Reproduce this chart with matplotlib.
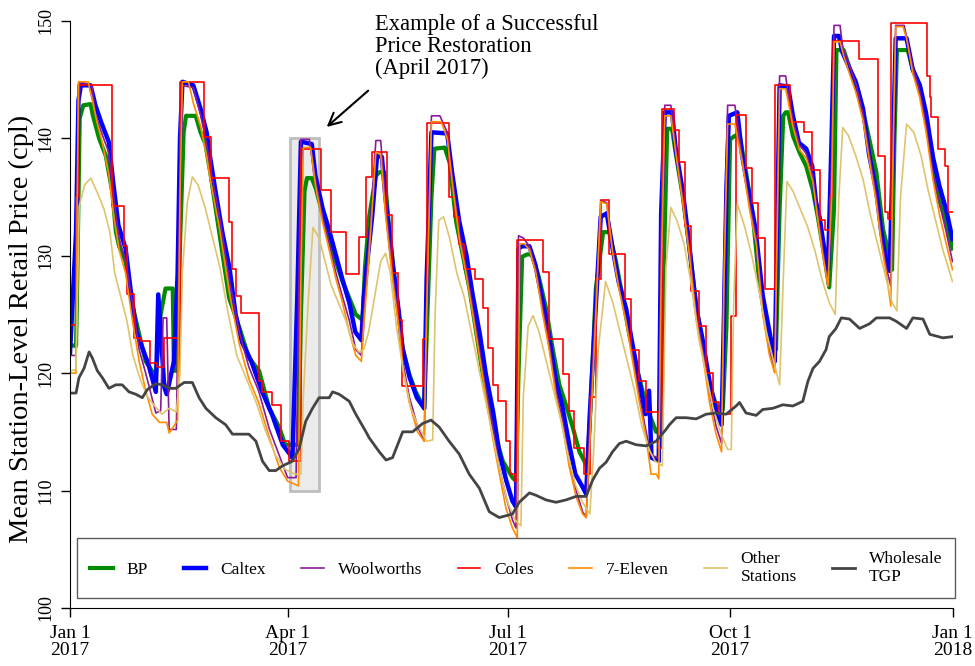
import matplotlib
matplotlib.use("Agg")
import matplotlib.pyplot as plt
from matplotlib.patches import Rectangle

plt.rcParams['font.family'] = ['Liberation Serif', 'DejaVu Serif']

# days since Jan 1 2017, mean retail price (cpl)
bp_days = [0, 2.5, 3, 4, 5.5, 8.5, 9.5, 12, 14.8, 17.5, 19, 20.3, 23, 25.8, 28.6, 31.3, 35.5, 37.5,
           39.5, 42.5, 43, 44.5, 45.5, 47, 48, 52, 54, 56, 58, 61.7, 65.8, 70, 74, 78.2, 82.4, 86.5,
           89, 94.5, 95.5, 97, 98, 100, 101.7, 104.4, 107.2, 110, 112.7, 115.5, 118.2, 121, 122,
           123.8, 126.5, 128, 130, 132, 134.7, 137.6, 140.3, 143, 146.5, 148, 149.5, 150.7, 155,
           157, 159.7, 162.4, 165.2, 168, 170.7, 173.5, 176.2, 179, 183, 184.5, 185.5, 187, 189,
           191, 194, 196.9, 199.6, 202.4, 205.1, 207.9, 210.7, 214, 215.5, 217.5, 220.5, 223,
           225.8, 228.6, 231.3, 234.1, 236.9, 239.6, 242.4, 244.5, 245.5, 247, 249, 250.7, 253.4,
           256.2, 259, 261.7, 264.5, 267.2, 270, 271.5, 273, 275, 277, 279.6, 282.4, 285.1, 287.9,
           290.7, 292, 293.5, 295, 296, 297, 299, 301.7, 304.5, 307.2, 309.3, 312, 314, 316, 317,
           320, 322.4, 325.2, 328, 330.7, 333.5, 336.3, 339, 340, 341, 342, 346.5, 348.6, 351.4,
           354.1, 356.9, 359.6, 362.4, 365]
bp_vals = [122.4, 122.3, 128, 141.7, 142.8, 142.9, 141.9, 140, 138.5, 135.4, 132, 130.8, 129.5, 125.8,
           123.3, 121, 119.7, 125, 127.2, 127.2, 120.2, 120.2, 131, 140.5, 141.9, 141.9, 140.5, 139.5,
           137.1, 132, 126.4, 123.9, 121.3, 120.2, 117, 115.4, 113.9, 113.9, 125, 135.5, 136.6, 136.6,
           135.7, 133.6, 131.6, 129.5, 127.8, 126.4, 125, 124.5, 129, 133.4, 136.8, 137.1, 137.1,
           132.3, 127.2, 122.1, 119.9, 118.4, 117, 126, 135, 139.1, 139.2, 137.9, 132.9, 130.1, 127.2,
           123.5, 119.9, 117, 114.5, 112.5, 111.1, 110.8, 120, 129.9, 130.1, 130.1, 128.1, 125.5,
           122.1, 119, 117.3, 115.4, 113.3, 112, 118, 127.2, 132, 132, 129.5, 126.4, 123.3, 120.7,
           118.4, 116.5, 115, 115, 128.3, 140.8, 140.8, 138.5, 135.1, 130.6, 125.8, 122.4, 119, 117.3,
           116.9, 124, 139.9, 140.2, 140.2, 137.1, 133.4, 127.7, 124.1, 122.1, 122, 134, 141.9, 142.2,
           142.2, 140.2, 138.8, 137.6, 135.6, 133.3, 129.9, 127.3, 134, 147.5, 147.5, 146, 144.3,
           142.3, 139.8, 137.1, 132.2, 129.9, 128.8, 140, 147.5, 147.5, 145.8, 144.4, 141.8, 137.6,
           134.7, 132.8, 130.6]

caltex_days = [0, 2.5, 3.5, 4.5, 8.5, 10.5, 13, 16, 18, 20, 23, 25, 27.5, 30, 32.5, 35.5, 36.5, 39,
               40, 43, 44.5, 45.5, 46.5, 51, 54, 56.5, 58, 60, 63, 66, 68.5, 71, 75, 79.5, 83.5, 88,
               92, 94, 95.5, 100, 101.5, 104.5, 107, 110, 112.5, 115.5, 118, 120.5, 121.5, 122.5, 125,
               127, 129, 130.5, 133.5, 136, 137.5, 140.5, 143.5, 146.5, 147.5, 149.5, 156, 158, 161,
               164, 166.5, 169.5, 172, 175, 177.5, 180.5, 183, 184.5, 185.5, 187, 190, 192.5, 195.5,
               198, 201, 203.5, 206.5, 209, 212, 213.5, 215, 217, 219.5, 222, 224.5, 227, 230, 232.5,
               235.5, 238, 239.5, 240.5, 243.5, 244.5, 246, 249, 250.5, 253.5, 256, 259, 261.5,
               264.5, 267, 269.5, 270.5, 271.5, 272.5, 276, 278, 281, 283.5, 286.5, 289.5, 291.5,
               292.5, 293.5, 297, 299, 301.5, 304.5, 307, 308.5, 310, 312, 313.5, 315, 316, 318,
               319.5, 322.5, 325, 328, 330.5, 333.5, 335.5, 337.5, 339, 340.5, 341.5, 346, 348.5,
               351.5, 354, 357, 359.5, 362.5, 365]
caltex_vals = [121.7, 132, 143.2, 144.5, 144.5, 142.8, 141.3, 139.7, 136, 132.6, 130.6, 127.2, 123.5,
               122.1, 120.7, 118.4, 126.7, 118.8, 118.2, 121, 128.4, 140, 144.8, 144.5, 142.5, 140.5,
               138.3, 135.7, 132, 128.9, 125, 122.7, 121, 118.4, 116.5, 113.9, 112.8, 126.4, 139.7,
               139.5, 136.8, 134, 132.3, 130, 128.1, 126, 123.5, 122.8, 126.4, 128.6, 133.4, 138.5,
               138.4, 134.9, 129.2, 125.2, 122.1, 119.6, 117.9, 117, 128, 140.5, 140.4, 137.1, 132.9,
               130, 126.7, 123.3, 119.9, 116.7, 113.3, 110.8, 109.1, 108.6, 130.6, 130.8, 130.8, 129.2,
               126.1, 123.3, 119.3, 117.3, 113.9, 111.4, 110.3, 109.7, 116.5, 124, 133.3, 133.6, 130.5,
               127.7, 125.5, 122.6, 119.3, 116.5, 118.5, 112.8, 112.5, 133.6, 142.2, 142.2, 139.1,
               135.4, 131.1, 125.5, 123, 119.3, 117, 115.6, 125, 135.7, 141.9, 142.2, 138.5, 135.1,
               132.3, 126.6, 123.3, 121, 133, 144.5, 144.4, 141.9, 139.6, 139.1, 137.6, 134.6, 133.3,
               130.5, 128.8, 140, 148.7, 148.7, 147.3, 145.9, 144.8, 142.5, 138.6, 135.5, 132.1, 129.6,
               128.7, 140, 148.5, 148.5, 145.9, 144.5, 142.2, 138.3, 136, 133.8, 131.4]

woolworths_days = [0, 2.5, 3, 4, 9, 10.5, 13, 16, 18, 20.3, 23, 25.8, 28.6, 31.3, 35.5, 37.5, 38.5,
                   40, 41, 44, 45, 46, 51, 54, 56.5, 58, 61.7, 65.8, 70, 74, 78, 82.5, 86.5, 90, 93.5,
                   94.5, 95.5, 99, 101.5, 104.5, 107.2, 110, 112.7, 115.5, 118.2, 120.5, 121.5, 123,
                   125, 126.5, 128.5, 130.5, 133.4, 136.2, 137.6, 140.3, 143.7, 146.5, 147.5, 149.5,
                   153, 156, 158.2, 161, 163.8, 166.6, 169.3, 172, 174.8, 177.5, 180.3, 183, 184.5,
                   185.5, 187.5, 190, 192.7, 195.5, 198.2, 201, 203.7, 206.5, 209.3, 212, 213.5, 215,
                   217.5, 219.5, 222, 224.4, 227.2, 230, 232.7, 235.5, 238.3, 240.3, 243.5, 244.5, 246,
                   248.5, 250.7, 253.4, 256.2, 259, 261.7, 264.5, 267.2, 269.5, 270.5, 272, 275, 278,
                   281, 283.8, 286.5, 289.3, 291.5, 292.5, 293.5, 296, 297, 299, 301.7, 304.5, 307.2,
                   309, 311, 313.5, 315, 316, 318.5, 319.5, 322.4, 325.2, 328, 330.7, 333.5, 335.6,
                   337.6, 339.5, 340.5, 341.5, 345, 348.6, 351.4, 354.1, 356.9, 359.6, 362.4, 365]
woolworths_vals = [121.5, 121.5, 135, 144.8, 144.5, 142, 140.5, 138.8, 135, 131.5, 129.5, 126, 122, 120,
                   116.6, 116.8, 124.7, 124.7, 115.2, 115.2, 130, 144.5, 144.3, 142, 139.5, 137.5,
                   133.5, 128, 123.5, 120.5, 118.5, 115.2, 113, 111.1, 111.1, 125, 139.9, 139.9, 136.5,
                   133.2, 131, 128.5, 126.5, 124.5, 122, 121.5, 125, 129, 135, 139.8, 139.8, 134.5,
                   128.5, 124, 121, 118, 115.5, 114.2, 126, 141.9, 141.9, 140.5, 136.5, 132, 129, 125.5,
                   122, 118.5, 115.5, 112, 109.5, 107.5, 106.8, 131.7, 131.5, 130.8, 128.8, 125.5,
                   122.5, 118.5, 116, 112.5, 110, 108.2, 107.7, 116, 126, 134.7, 134.5, 130.5, 127.2,
                   124.5, 121.5, 118, 115, 113, 112.8, 132, 142.8, 142.8, 139, 135, 130.5, 125, 122,
                   118.3, 115.5, 114, 130, 142.8, 142.8, 138.3, 134.5, 131.5, 125.5, 122, 120.1, 135,
                   145.3, 145.3, 143.8, 141.5, 139.4, 138.7, 136.8, 134, 131, 127.4, 138, 149.6, 149.6,
                   147.8, 146.2, 144.5, 142, 138.5, 135, 131.5, 129, 127.4, 138, 149.6, 149.6, 146, 144,
                   141, 137, 134.5, 132, 129.5]

coles_days = [0, 2, 2.5, 3.5, 17.5, 22.3, 23.7, 26.5, 29.3, 33, 36, 39, 44.5, 45.5, 55.5, 58.5, 65.8,
              67.2, 68.6, 70.7, 78.2, 79.6, 83.7, 87.2, 90.6, 95.5, 103.7, 107.9, 114.1, 119.6, 122.4,
              125, 131, 133, 135.5, 137.5, 145.8, 147.8, 156.9, 159, 161, 163, 167.5, 171, 173, 175,
              177, 180.5, 182, 184, 185, 195.5, 198.2, 203.7, 206.5, 208.6, 212.7, 215, 217.5, 219.6,
              223, 229.5, 232, 235.5, 238.3, 243, 245, 250, 252, 254.5, 257, 260, 263, 266, 268.5,
              273.5, 275.5, 279.5, 282, 284.5, 287.5, 291.4, 297.6, 303.5, 307, 310, 312.4, 314.5,
              315.5, 326.4, 334.2, 337, 338.5, 339.5, 354.3, 355.7, 356.2, 359, 361.8, 363, 365]
coles_vals = [124.1, 124.1, 135, 144.5, 134.2, 130.8, 126.7, 123, 122.7, 120.9, 120.5, 123, 123, 144.8,
              140.1, 136.6, 132.9, 128.9, 126.6, 125.1, 119.3, 118.4, 117.3, 114.2, 112.5, 139.1, 135.6,
              132, 128.4, 131.6, 136.7, 138.8, 133.5, 128.5, 124.5, 118.9, 122.9, 141.3, 135, 133.3,
              131, 128.9, 128, 125.5, 122.1, 119, 117.6, 114.2, 111.4, 110.8, 131.3, 128.6, 122.9,
              119.9, 116.8, 113.6, 111.4, 118, 128, 134.7, 130.1, 126.3, 122, 119.3, 116.7, 113.6,
              142.5, 140.7, 138, 132.5, 127, 124, 120, 117.5, 116.5, 124.9, 142, 137.5, 134.5, 131.5,
              127.2, 144.5, 141.4, 140.5, 137.3, 133, 132.2, 135.1, 148.3, 146.7, 138.5, 133.7, 133.1,
              149.8, 145.3, 143.5, 141.8, 139.1, 137.6, 133.7, 133.7]

seven_days = [0, 2.5, 3, 3.5, 7.5, 9, 11, 13.5, 16, 18, 20.3, 23, 25.8, 28.6, 31.3, 34, 37, 40, 41, 43,
              44.5, 45.5, 46.5, 49, 51, 54, 56.5, 58, 61.7, 65.8, 70, 74, 78, 82.5, 86.5, 90, 94.5,
              95.5, 96.5, 99.5, 101.5, 104.5, 107.2, 110, 112.7, 115.5, 118.2, 120.5, 121.5, 123, 125,
              126.5, 128.5, 130.5, 133.4, 136.2, 137.6, 140.3, 143.7, 146.5, 147.5, 149.5, 153.5, 156,
              158.2, 161, 163.8, 166.6, 169.3, 172, 174.8, 177.5, 180.3, 183, 185, 186, 188, 190,
              192.7, 195.5, 198.2, 201, 203.7, 206.5, 209.3, 212, 213.5, 215, 217.5, 219.5, 222,
              224.4, 227.2, 230, 232.7, 235.5, 238.3, 240.3, 242.5, 243.5, 244.5, 246, 248.5, 250.7,
              253.4, 256.2, 259, 261.7, 264.5, 267.2, 269.5, 270.5, 272, 275, 278, 281, 283.8, 286.5,
              289.3, 291.5, 292.5, 293.5, 296, 297, 299, 301.7, 304.5, 307.2, 309, 311, 313.5, 315,
              316, 318.5, 320, 322.4, 325.2, 328, 330.7, 333.5, 335.6, 337.6, 339.5, 340.5, 341.5,
              344.5, 346, 348.6, 351.4, 354.1, 356.9, 359.6, 362.4, 365]
seven_vals = [120, 120, 135, 144.8, 144.8, 143.5, 141.5, 139.5, 137, 133.5, 130.5, 128.5, 124.5, 121,
              118.5, 116.5, 115.8, 115.8, 114.9, 115.5, 116, 135, 144.8, 144.8, 143, 141, 138.5, 136.5,
              132.5, 127, 122.5, 119.5, 117.5, 114.5, 112, 110.8, 110.4, 128, 139.2, 139.2, 136, 132.8,
              130.5, 128, 126, 123.5, 121.5, 121, 124, 128, 134, 138.8, 138.6, 133.5, 128, 123.5,
              120.5, 117.5, 115, 114.2, 125, 141.4, 141.4, 140, 136, 131.5, 128.5, 125, 121.5, 118,
              114.5, 111.5, 108.5, 106.8, 106, 131, 131, 130.5, 128.5, 125, 122, 118, 115.5, 112, 109.5,
              108, 107.7, 114, 125, 134.6, 134.4, 130.3, 127, 124.3, 121, 117.5, 114.5, 111.4, 111.4,
              111, 128, 141.9, 141.9, 138.5, 134.5, 130, 124.5, 121.5, 117.5, 114.8, 113.3, 128, 141.2,
              141.2, 138, 134, 131, 125, 121.5, 120, 132, 144.2, 144.2, 143.2, 141, 139, 138.3, 136.3,
              133.5, 130.5, 127.4, 135, 148.2, 148.2, 147, 145.5, 143.8, 141.5, 138, 134.5, 131, 128.5,
              125.7, 140, 149.5, 149.5, 148.5, 145.5, 143.5, 140.5, 136.5, 133.5, 131, 128.8]

other_days = [0, 2.5, 3.2, 3.8, 6, 8.6, 11, 14, 16.5, 18.5, 21, 23.5, 26, 29, 32, 35, 38, 41, 44,
              45.5, 46.5, 48.5, 50.6, 53, 56, 59, 62, 65.5, 69, 73, 77, 81, 85, 89, 93, 95.5, 96.5,
              98.5, 100.5, 103, 105.5, 108, 111, 114, 117, 119.5, 121.5, 123.5, 126, 128.5, 130.5,
              132.5, 135, 138, 141, 144, 147.5, 150, 151, 152.5, 154.5, 157, 160, 163, 166, 169, 172,
              175, 178, 181, 184, 186.5, 187.5, 189.5, 191.5, 194, 197, 200, 203, 206, 209, 212, 215,
              216.5, 218.5, 221.5, 224.5, 227.5, 230.5, 233.5, 236.5, 239.5, 242, 245, 246.5, 248.5,
              251, 254, 257, 260, 263, 266, 269, 272, 273.5, 274.5, 276, 279, 282, 285, 288, 291,
              293.5, 295, 296.5, 299, 302, 305, 308, 311, 314, 316.5, 318, 319.6, 322, 325, 328, 331,
              334, 337, 340, 342, 343.5, 346, 349, 352, 355, 358, 361, 365]
other_vals = [120.2, 120.3, 128, 134.2, 136, 136.6, 135.5, 134, 132, 128.5, 126.5, 124.5, 121.5, 119.5,
              118, 117.2, 116.5, 117, 116.7, 120, 128.6, 134.5, 136.7, 136, 134, 131.5, 129, 125, 121.5,
              119.5, 117.5, 115, 113, 111.8, 111.4, 111.4, 118, 126, 132.4, 131.5, 129.5, 127.5, 126,
              124.5, 122.5, 121.8, 122, 123.5, 126.5, 129.5, 130.2, 128.5, 124, 120, 117, 115.5, 114.2,
              114.3, 125, 133, 133.3, 131.5, 128.5, 126.5, 123.5, 120.5, 117.5, 114.5, 111.5, 109,
              107.5, 107, 118, 124, 124.9, 123.5, 121, 118.5, 116, 113, 110.5, 109, 108, 113, 122,
              127.8, 126, 123.5, 121, 118.5, 115.5, 113.5, 112.5, 112.1, 129, 134.1, 133, 131, 127.5,
              123, 120, 117, 115, 113.5, 113.5, 126, 134.4, 132.5, 130, 127, 123.5, 121, 119, 128,
              136.3, 135.5, 134, 132.5, 130.5, 128, 126, 125, 135, 140.9, 140.2, 138.5, 136.5, 133.5,
              131, 128.5, 126, 125.3, 135, 141.2, 140.5, 138.5, 135.5, 133, 130.5, 127.8]

tgp_days = [0, 2.5, 3.7, 5.8, 7.9, 9.2, 11.3, 13.4, 16.1, 18.9, 21.6, 24.4, 27.2, 29.9, 32, 35.5, 38.2,
            41, 43.7, 47.2, 50.6, 53.4, 56.2, 60.3, 64.4, 67.2, 69.9, 74, 76.9, 79.6, 82.4, 85.1, 87.9,
            92, 94.8, 97.5, 100.3, 103, 107.2, 108.6, 111.3, 115.5, 118.2, 122.4, 123.7, 127.9, 130.7,
            133.4, 137.6, 141.7, 145.8, 149.3, 152.7, 156.8, 161, 165.1, 169.3, 173.4, 177.5, 183,
            185.8, 190, 192.7, 196.9, 201, 205.1, 209.3, 213.4, 216.2, 219, 221.7, 224.4, 227.2, 230,
            234.1, 238.3, 242.4, 246.5, 247.9, 250.7, 254.9, 259, 263.1, 267.2, 271.4, 275.5, 276.9,
            279.6, 283.8, 286.5, 290.7, 294.8, 299, 303.1, 305.2, 307.3, 310, 312.7, 314, 316.8, 319,
            322.4, 326.6, 330.7, 333.5, 339, 341.8, 346, 348.6, 352.8, 355.6, 361, 365]
tgp_vals = [118.3, 118.3, 119.6, 120.4, 121.8, 121.3, 120.2, 119.6, 118.7, 119, 119, 118.4, 118.2, 117.9,
            118.6, 119.1, 119, 118.7, 118.7, 119.2, 119.2, 117.9, 117, 116.2, 115.6, 114.8, 114.8,
            114.8, 114.2, 112.5, 111.7, 111.7, 112.1, 112.5, 113.6, 115.9, 117, 117.9, 117.9, 118.4,
            118.2, 117.6, 116.5, 115, 114.5, 113.3, 112.6, 112.8, 115, 115, 115.7, 116, 115.4, 114.2,
            113.1, 111.4, 110.2, 108.2, 107.7, 108, 109, 109.8, 109.6, 109.2, 109, 109.2, 109.5, 109.5,
            110.9, 111.9, 112.4, 113.3, 114, 114.2, 113.9, 113.8, 114.2, 115.2, 115.6, 116.2, 116.2,
            116.1, 116.5, 116.6, 116.5, 117.2, 117.5, 116.6, 116.4, 116.9, 117, 117.3, 117.2, 117.6,
            119.3, 120.4, 121, 122, 123.1, 123.8, 124.7, 124.6, 123.8, 124.2, 124.7, 124.7, 124.4,
            123.8, 124.7, 124.6, 123.3, 123, 123.1]

series = [
    ("BP", bp_days, bp_vals, "#008B00", 3.0, "default"),
    ("Caltex", caltex_days, caltex_vals, "#0000FF", 3.2, "default"),
    ("Woolworths", woolworths_days, woolworths_vals, "#8B1A9B", 1.2, "default"),
    ("Coles", coles_days, coles_vals, "#FF0000", 1.2, "steps-post"),
    ("7-Eleven", seven_days, seven_vals, "#FF8C00", 1.2, "default"),
    ("Other\nStations", other_days, other_vals, "#DEC46E", 1.2, "default"),
]

fig = plt.figure(figsize=(9.75, 6.66), dpi=100)
ax = fig.add_axes([70 / 975, 1 - 608 / 666, (952.5 - 70) / 975, (608 - 20.7) / 666])

# highlighted restoration
ax.add_patch(Rectangle((90.8, 110), 12.2, 30, facecolor="#EBEBEB", edgecolor="#BEBEBE",
                       linewidth=2, zorder=1))

for name, d, v, c, lw, ds in series:
    ax.plot(d, v, drawstyle=ds, color=c, lw=lw, label=name, zorder=2)
ax.plot(tgp_days, tgp_vals, color="#444444", lw=2.0, label="Wholesale\nTGP", zorder=2)

ax.set_xlim(0, 365)
ax.set_ylim(100, 150)
ax.spines["top"].set_visible(False)
ax.spines["right"].set_visible(False)
ax.spines["left"].set_bounds(100, 150)
ax.spines["bottom"].set_bounds(0, 365)

ax.set_xticks([0, 90, 181, 273, 365])
ax.set_xticklabels(["Jan 1\n2017", "Apr 1\n2017", "Jul 1\n2017", "Oct 1\n2017", "Jan 1\n2018"],
                   fontsize=14, linespacing=1.0)
ax.set_yticks([100, 110, 120, 130, 140, 150])
ax.set_yticklabels(["100", "110", "120", "130", "140", "150"], fontsize=13, rotation=90,
                   va="center")
ax.tick_params(axis="both", length=6.5, width=1, pad=6)
ax.tick_params(axis="y", pad=4.5)
ax.set_ylabel("Mean Station-Level Retail Price (cpl)", fontsize=20.5)
ax.yaxis.set_label_coords(-0.041, 0.475)

ax.text(126.2, 150.6, "Example of a Successful\nPrice Restoration\n(April 2017)",
        fontsize=16.3, va="top", ha="left", linespacing=1.07, clip_on=False)
ax.annotate("", xy=(105.3, 140.8), xytext=(124.2, 144.2),
            arrowprops=dict(arrowstyle="->", color="black", lw=1.5, mutation_scale=22),
            annotation_clip=False)

leg = ax.legend(ncol=7, loc="lower left", bbox_to_anchor=(0.008, 0.017), borderaxespad=0,
                fontsize=12.5, handlelength=1.3, handletextpad=0.8, columnspacing=2.05,
                fancybox=False, frameon=True, borderpad=0.75)
leg.get_frame().set_edgecolor("#333333")
leg.get_frame().set_linewidth(1.0)

fig.savefig("out.png", dpi=100)
